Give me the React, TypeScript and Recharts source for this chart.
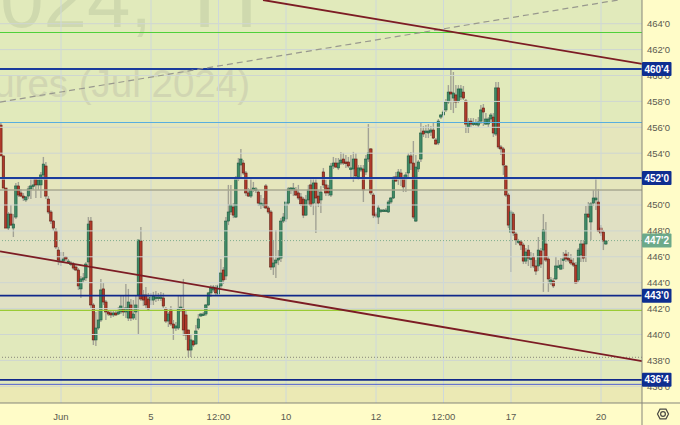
import React from "react";
import { ComposedChart, Bar, XAxis, YAxis, ReferenceLine, ReferenceArea } from "recharts";

const opens = [
456.17,453.79,451.31,448.22,449.30,448.22,449.07,451.47,450.93,450.69,
450.39,450.69,451.24,451.47,452.01,451.55,451.55,452.32,453.01,450.46,
449.46,448.76,447.99,446.52,445.60,445.67,445.98,445.60,445.44,445.44,
445.21,444.98,443.52,444.21,444.37,445.60,448.76,442.28,439.58,440.50,
441.12,443.52,442.51,441.74,441.66,441.51,441.66,441.58,441.74,441.97,
441.74,441.27,442.28,441.27,441.74,443.05,447.22,443.05,443.05,442.74,
442.66,442.66,442.82,442.82,442.82,442.82,441.97,441.04,441.89,440.81,
440.50,440.50,441.97,441.97,441.51,440.35,438.80,439.50,439.27,440.50,
441.43,441.51,441.58,442.28,443.21,443.44,443.59,443.13,443.75,444.98,
444.52,448.76,449.46,449.84,449.07,452.01,453.09,453.24,452.47,450.93,
450.69,451.24,451.16,451.00,450.00,450.00,451.47,449.77,449.46,445.21,
445.52,445.75,445.90,448.76,448.92,450.15,451.16,451.16,451.16,450.93,
450.62,450.46,449.22,450.39,451.55,450.15,451.70,450.69,450.39,452.55,
451.55,451.31,450.77,453.01,453.24,452.86,453.24,453.55,453.32,453.32,
452.78,452.78,453.55,452.17,452.70,452.78,452.55,453.55,454.33,450.77,
449.30,449.07,449.53,449.53,449.53,449.46,450.23,450.54,452.17,452.09,
452.47,452.09,452.01,452.47,453.79,453.24,448.76,452.78,453.55,455.71,
455.63,455.56,455.63,455.79,455.02,454.79,456.79,456.95,457.34,457.95,
458.72,458.26,458.50,458.03,458.34,458.72,458.03,456.02,456.48,456.25,
456.25,456.17,456.48,457.49,456.25,456.25,456.64,456.79,455.48,459.04,
454.48,454.33,453.01,450.77,447.91,449.30,447.76,447.15,447.15,446.91,
445.67,446.52,445.83,445.98,445.29,445.29,446.45,446.52,446.99,445.83,
443.98,444.13,444.29,445.21,445.05,445.75,446.21,445.90,445.75,445.52,
445.36,444.21,446.14,446.99,446.99,449.30,448.69,450.15,450.39,450.23,
448.22,447.91,446.99];

const highs = [
456.41,453.79,451.31,449.46,450.00,449.30,451.70,451.78,451.24,450.93,
450.69,451.47,452.09,452.09,452.17,452.09,452.55,453.71,453.32,450.69,
449.61,448.84,448.22,446.76,446.37,446.37,446.06,445.83,445.67,445.60,
445.36,445.13,444.52,444.75,445.60,449.07,449.07,442.43,441.74,441.89,
444.29,443.98,442.66,441.89,441.81,441.81,441.81,442.12,442.97,442.97,
443.90,443.52,442.74,442.66,443.05,447.30,448.30,443.44,443.67,443.21,
443.21,443.29,443.36,443.21,443.29,443.21,442.12,441.74,442.20,441.12,
440.96,442.97,442.97,444.29,441.89,440.35,440.04,439.58,440.73,441.58,
441.66,441.74,442.35,443.29,443.82,443.82,443.82,443.90,445.83,445.21,
449.07,451.55,451.55,450.15,452.24,453.63,454.33,453.47,452.62,451.31,
452.17,451.78,451.39,451.16,450.77,450.54,451.62,449.92,449.61,447.30,
448.07,446.52,448.99,449.38,450.23,451.39,451.39,451.70,451.39,451.55,
450.93,450.62,450.77,451.55,452.09,452.09,452.09,451.16,451.47,452.86,
451.93,451.55,453.24,453.71,453.63,453.63,454.10,454.02,453.86,453.71,
453.86,454.10,454.02,453.09,453.09,453.09,453.86,456.25,454.41,450.93,
449.46,450.00,449.69,449.69,449.77,450.39,450.62,452.24,452.55,452.78,
452.78,452.32,452.55,454.02,454.10,454.94,453.86,453.47,456.41,456.10,
456.17,456.25,456.10,456.33,455.17,456.64,457.03,457.34,458.19,459.26,
460.42,460.27,459.26,459.26,459.26,459.19,458.19,456.71,456.71,456.71,
456.64,456.79,457.73,457.80,457.10,456.79,457.10,457.10,459.50,459.50,
454.63,454.48,453.09,450.93,449.61,449.46,447.91,447.38,447.30,447.07,
446.68,446.91,446.37,446.29,445.75,447.53,446.68,449.30,448.69,446.06,
444.44,444.37,445.98,445.75,445.90,446.37,446.52,446.37,446.21,445.90,
445.60,446.68,447.30,447.30,449.92,450.23,450.23,451.16,452.09,451.24,
448.45,448.07,447.30];

const lows = [
453.79,451.31,448.22,448.07,448.37,447.53,448.92,450.62,450.62,450.31,
450.23,450.46,450.46,451.16,450.54,451.16,450.54,451.93,450.46,449.30,
448.53,447.99,446.60,445.36,445.29,445.52,445.67,445.52,445.29,444.98,
444.90,443.44,442.82,443.98,444.13,445.36,442.05,439.19,439.11,440.35,
440.96,442.28,441.12,441.43,441.27,441.35,441.43,441.51,441.58,441.43,
441.27,441.04,441.04,441.12,441.12,440.04,442.59,442.20,442.05,441.81,
442.28,442.28,442.51,442.59,442.59,442.05,440.89,440.58,440.66,439.58,
440.27,440.35,441.74,439.88,439.58,438.26,438.26,439.04,439.19,440.35,
441.35,441.43,441.43,442.20,442.89,443.29,443.05,442.97,443.59,443.90,
444.21,448.45,449.22,448.99,448.99,451.85,452.09,452.32,450.69,450.62,
450.54,451.00,450.93,449.92,449.69,449.77,449.69,449.30,444.98,444.60,
444.37,445.36,445.60,448.61,448.69,450.00,450.85,450.69,450.69,450.39,
449.92,448.99,449.15,450.00,449.84,449.22,447.84,449.84,449.38,451.31,
450.69,450.69,450.62,452.78,452.86,452.70,453.09,453.09,452.86,452.86,
452.09,451.78,452.09,451.93,452.55,450.23,452.32,453.32,450.77,448.99,
448.99,448.53,449.38,449.46,449.46,449.38,450.08,450.46,451.78,451.55,
451.47,451.00,451.00,452.09,452.70,448.92,448.69,452.55,453.32,455.25,
455.17,455.17,455.33,455.09,454.63,454.63,456.64,456.87,457.18,457.80,
457.34,457.10,457.49,457.87,458.11,458.11,455.56,455.56,456.02,456.10,
456.10,456.02,456.25,456.10,456.17,456.02,456.41,455.25,455.33,454.33,
453.86,452.32,450.62,448.22,444.83,447.61,446.91,446.99,446.52,445.44,
445.44,445.29,445.13,445.13,444.60,444.90,445.13,443.29,445.60,443.29,
443.82,443.59,444.21,445.13,444.98,445.05,445.60,445.60,445.36,445.21,
443.90,444.05,445.60,445.60,445.60,448.99,447.30,449.92,449.61,447.91,
447.61,446.52,446.91];

const closes = [
453.79,451.31,448.22,449.30,448.45,448.53,451.47,450.77,450.69,450.54,
450.62,451.24,451.47,451.55,451.55,451.93,452.32,453.16,450.69,449.46,
448.76,448.22,446.76,445.75,445.75,445.83,445.83,445.67,445.52,445.13,
444.98,443.75,444.29,444.37,445.44,448.53,442.28,439.58,440.50,441.12,
443.44,442.51,441.74,441.58,441.51,441.66,441.51,441.74,442.20,441.74,
442.05,442.51,441.27,441.58,442.28,447.30,442.74,442.66,442.28,441.97,
442.89,442.97,442.89,442.89,442.89,442.20,441.04,441.58,440.81,440.50,
440.66,441.97,442.12,440.35,439.96,438.80,439.58,439.19,440.27,441.20,
441.58,441.58,442.28,443.21,443.59,443.67,443.21,443.75,444.75,444.21,
448.76,449.46,450.00,449.22,452.09,453.24,453.55,452.47,450.93,450.69,
451.16,451.31,451.24,450.15,450.15,450.08,449.77,449.46,445.21,445.52,
445.75,445.90,448.76,449.07,450.23,451.24,451.31,451.31,450.77,450.54,
450.08,449.22,450.39,451.16,450.00,451.70,450.54,450.15,451.00,451.55,
450.93,450.93,453.01,453.24,452.93,453.24,453.47,453.24,453.24,453.01,
452.86,453.55,452.24,452.86,452.86,451.16,453.55,454.02,450.93,449.22,
449.15,449.77,449.61,449.61,449.61,450.23,450.54,452.01,451.85,452.55,
452.01,451.39,452.32,453.79,453.24,449.07,452.93,453.32,455.56,455.48,
455.71,455.71,455.79,455.17,454.71,456.48,456.95,457.18,457.95,458.72,
458.57,458.65,457.95,458.96,458.96,458.26,456.25,456.41,456.25,456.33,
456.33,456.41,457.34,457.18,456.64,456.64,456.95,455.56,459.04,454.48,
454.33,453.09,450.77,448.45,449.46,447.84,447.30,447.22,446.91,445.67,
446.37,445.90,445.90,445.29,444.90,446.52,445.44,448.07,445.75,444.29,
444.21,443.75,445.29,445.29,445.36,445.83,445.83,445.75,445.52,445.36,
443.98,446.52,446.99,445.90,449.30,449.07,450.08,450.54,450.54,447.99,
447.84,447.22,447.22];

const priceTicks = [436, 438, 440, 442, 444, 446, 448, 450, 452, 454, 456, 458, 460, 462, 464];
const priceLabels = ["436'0", "438'0", "440'0", "442'0", "444'0", "446'0", "448'0", "450'0", "452'0", "454'0", "456'0", "458'0", "460'0", "462'0", "464'0"];
const tagValues = [460.5, 452.08, 447.25, 443, 436.5];
const tagLabels = ["460'4", "452'0", "447'2", "443'0", "436'4"];
const tagFills = ["#0e2e90", "#0e2e90", "#6ca98a", "#0e2e90", "#0e2e90"];
const timeTicks = [24, 60, 87, 114, 150, 177, 204, 240];
const timeLabels = ["Jun", "5", "12:00", "10", "12", "12:00", "17", "20"];

const domainX = [-0.4, 256.4];
const domainY = [434.71, 465.83];

const data = opens.map((open, i) => ({
  i,
  open,
  high: highs[i],
  low: lows[i],
  close: closes[i],
}));

const FONT = '"Liberation Sans", Arial, sans-serif';

function Candle(props: any) {
  const { x, y, width, height, payload } = props;
  const { open, close, high, low } = payload;
  const cx = x + width / 2;
  const at = (p: number) => y + ((high - p) / (high - low)) * height;
  const up = close >= open;
  const top = at(Math.max(open, close));
  const h = Math.max(at(Math.min(open, close)) - top, 1.5);
  return (
    <g>
      <line x1={cx} x2={cx} y1={y} y2={y + height} stroke="#a2a295" strokeWidth={1.4} />
      <rect
        x={cx - 1.2}
        y={top}
        width={2.4}
        height={h}
        fill={up ? "#3f8a66" : "#b03a2a"}
        stroke={up ? "#1c5a40" : "#5e1a12"}
        strokeWidth={0.6}
      />
    </g>
  );
}

function PriceTick(props: any) {
  const { x, y, payload } = props;
  const idx = tagValues.indexOf(payload.value);
  if (idx >= 0) {
    return (
      <g>
        <rect x={x - 5} y={y - 7} width={29.5} height={14} rx={1} fill={tagFills[idx]} />
        <text x={x + 9.7} y={y + 3.6} textAnchor="middle" fontFamily={FONT} fontSize={10} fontWeight={700} fill="#ffffff">
          {tagLabels[idx]}
        </text>
      </g>
    );
  }
  const p = priceTicks.indexOf(payload.value);
  return (
    <text x={x} y={y + 3.4} textAnchor="start" fontFamily={FONT} fontSize={9.5} fill="#5a5a50">
      {priceLabels[p]}
    </text>
  );
}

export default function App() {
  const yTicks = [...priceTicks.filter((t) => t !== 452), ...tagValues];
  return (
    <div style={{ position: "absolute", left: 0, top: 0, width: 680, height: 425, overflow: "hidden", background: "#fffcc8" }}>
      <ComposedChart
        width={680}
        height={425}
        data={data}
        margin={{ top: 0, right: 0, bottom: 0, left: 0 }}
        barCategoryGap={0}
      >
        <XAxis
          dataKey="i"
          type="number"
          domain={domainX}
          allowDataOverflow
          ticks={timeTicks}
          interval={0}
          height={22}
          tickLine={false}
          tickMargin={4}
          tickFormatter={(v: number) => timeLabels[timeTicks.indexOf(v)]}
          tick={{ fontSize: 9.5, fontFamily: FONT, fill: "#5a5a50" }}
          axisLine={{ stroke: "#85857a", strokeWidth: 1 }}
        />
        <YAxis
          orientation="right"
          type="number"
          domain={domainY}
          allowDataOverflow
          ticks={yTicks}
          interval={0}
          width={38}
          tickSize={0}
          tickMargin={5}
          tick={PriceTick}
          axisLine={{ stroke: "#85857a", strokeWidth: 1 }}
        />

        <ReferenceArea zIndex={-100} y1={456.37} y2={465.83} fill="#e1eabb" fillOpacity={1} stroke="none" />
        <ReferenceArea zIndex={-100} y1={451.16} y2={456.37} fill="#e5e6bc" fillOpacity={1} stroke="none" />
        <ReferenceArea zIndex={-100} y1={441.87} y2={451.16} fill="#e0e0c3" fillOpacity={1} stroke="none" />
        <ReferenceArea zIndex={-100} y1={436.15} y2={441.87} fill="#e1e9bc" fillOpacity={1} stroke="none" />
        <ReferenceArea zIndex={-100} y1={434.71} y2={436.15} fill="#ebe9b4" fillOpacity={1} stroke="none" />

        <text x={152} y={27} textAnchor="end" fontFamily={FONT} fontSize={78} fill="#cfd9ae">ZCN2024,</text>
        <text x={193} y={27} textAnchor="start" fontFamily={FONT} fontSize={90} fill="#cfd9ae">H</text>
        <text x={250} y={97} textAnchor="end" fontFamily={FONT} fontSize={38.5} fill="#d1d6b2">CORN Futures (Jul 2024)</text>

        {priceTicks.map((t) => (
          <ReferenceLine key={"h" + t} y={t} stroke="#ced6d2" strokeWidth={1} />
        ))}
        {timeTicks.map((t) => (
          <ReferenceLine key={"v" + t} x={t} stroke="#ced8da" strokeWidth={1} />
        ))}

        <ReferenceLine y={463.32} stroke="#4fd03a" strokeWidth={1} />
        <ReferenceLine y={456.37} stroke="#58aede" strokeWidth={1} />
        <ReferenceLine y={451.16} stroke="#a9a992" strokeWidth={1.5} />
        <ReferenceLine y={447.25} stroke="#7fae8e" strokeWidth={1} strokeDasharray="1 2" />
        <ReferenceLine y={441.87} stroke="#9acb35" strokeWidth={1.2} />
        <ReferenceLine y={438.24} stroke="#85857a" strokeWidth={1} strokeDasharray="1 2" />
        <ReferenceLine y={436.15} stroke="#5060d0" strokeWidth={1} />

        <Bar
          dataKey={(d: any) => [d.low, d.high]}
          barSize={3}
          isAnimationActive={false}
          shape={Candle}
        />

        <ReferenceLine y={460.5} stroke="#1a3c9c" strokeWidth={2} />
        <ReferenceLine y={452.08} stroke="#1a3c9c" strokeWidth={2} />
        <ReferenceLine y={443} stroke="#10288a" strokeWidth={1.8} />
        <ReferenceLine y={436.5} stroke="#10288a" strokeWidth={1.8} />

        <ReferenceLine
          segment={[{ x: -0.4, y: 457.95 }, { x: 246.8, y: 465.83 }]}
          stroke="#98988e"
          strokeWidth={1.2}
          strokeDasharray="6 4"
        />
        <ReferenceLine
          segment={[{ x: 104.8, y: 465.83 }, { x: 256.4, y: 460.89 }]}
          stroke="#7c1c24"
          strokeWidth={1.8}
        />
        <ReferenceLine
          segment={[{ x: -0.4, y: 446.42 }, { x: 256.4, y: 437.95 }]}
          stroke="#7c1c24"
          strokeWidth={1.8}
        />

        <line x1={642} x2={680} y1={403} y2={403} stroke="#85857a" strokeWidth={1} />
        <line x1={642} x2={642} y1={403} y2={425} stroke="#85857a" strokeWidth={1} />
        <polygon
          points="657.5,414 660,409.2 666,409.2 668.5,414 666,418.8 660,418.8"
          fill="none"
          stroke="#4a4a44"
          strokeWidth={1.2}
        />
        <circle cx={663} cy={414} r={2.4} fill="none" stroke="#4a4a44" strokeWidth={1.2} />
      </ComposedChart>
    </div>
  );
}
